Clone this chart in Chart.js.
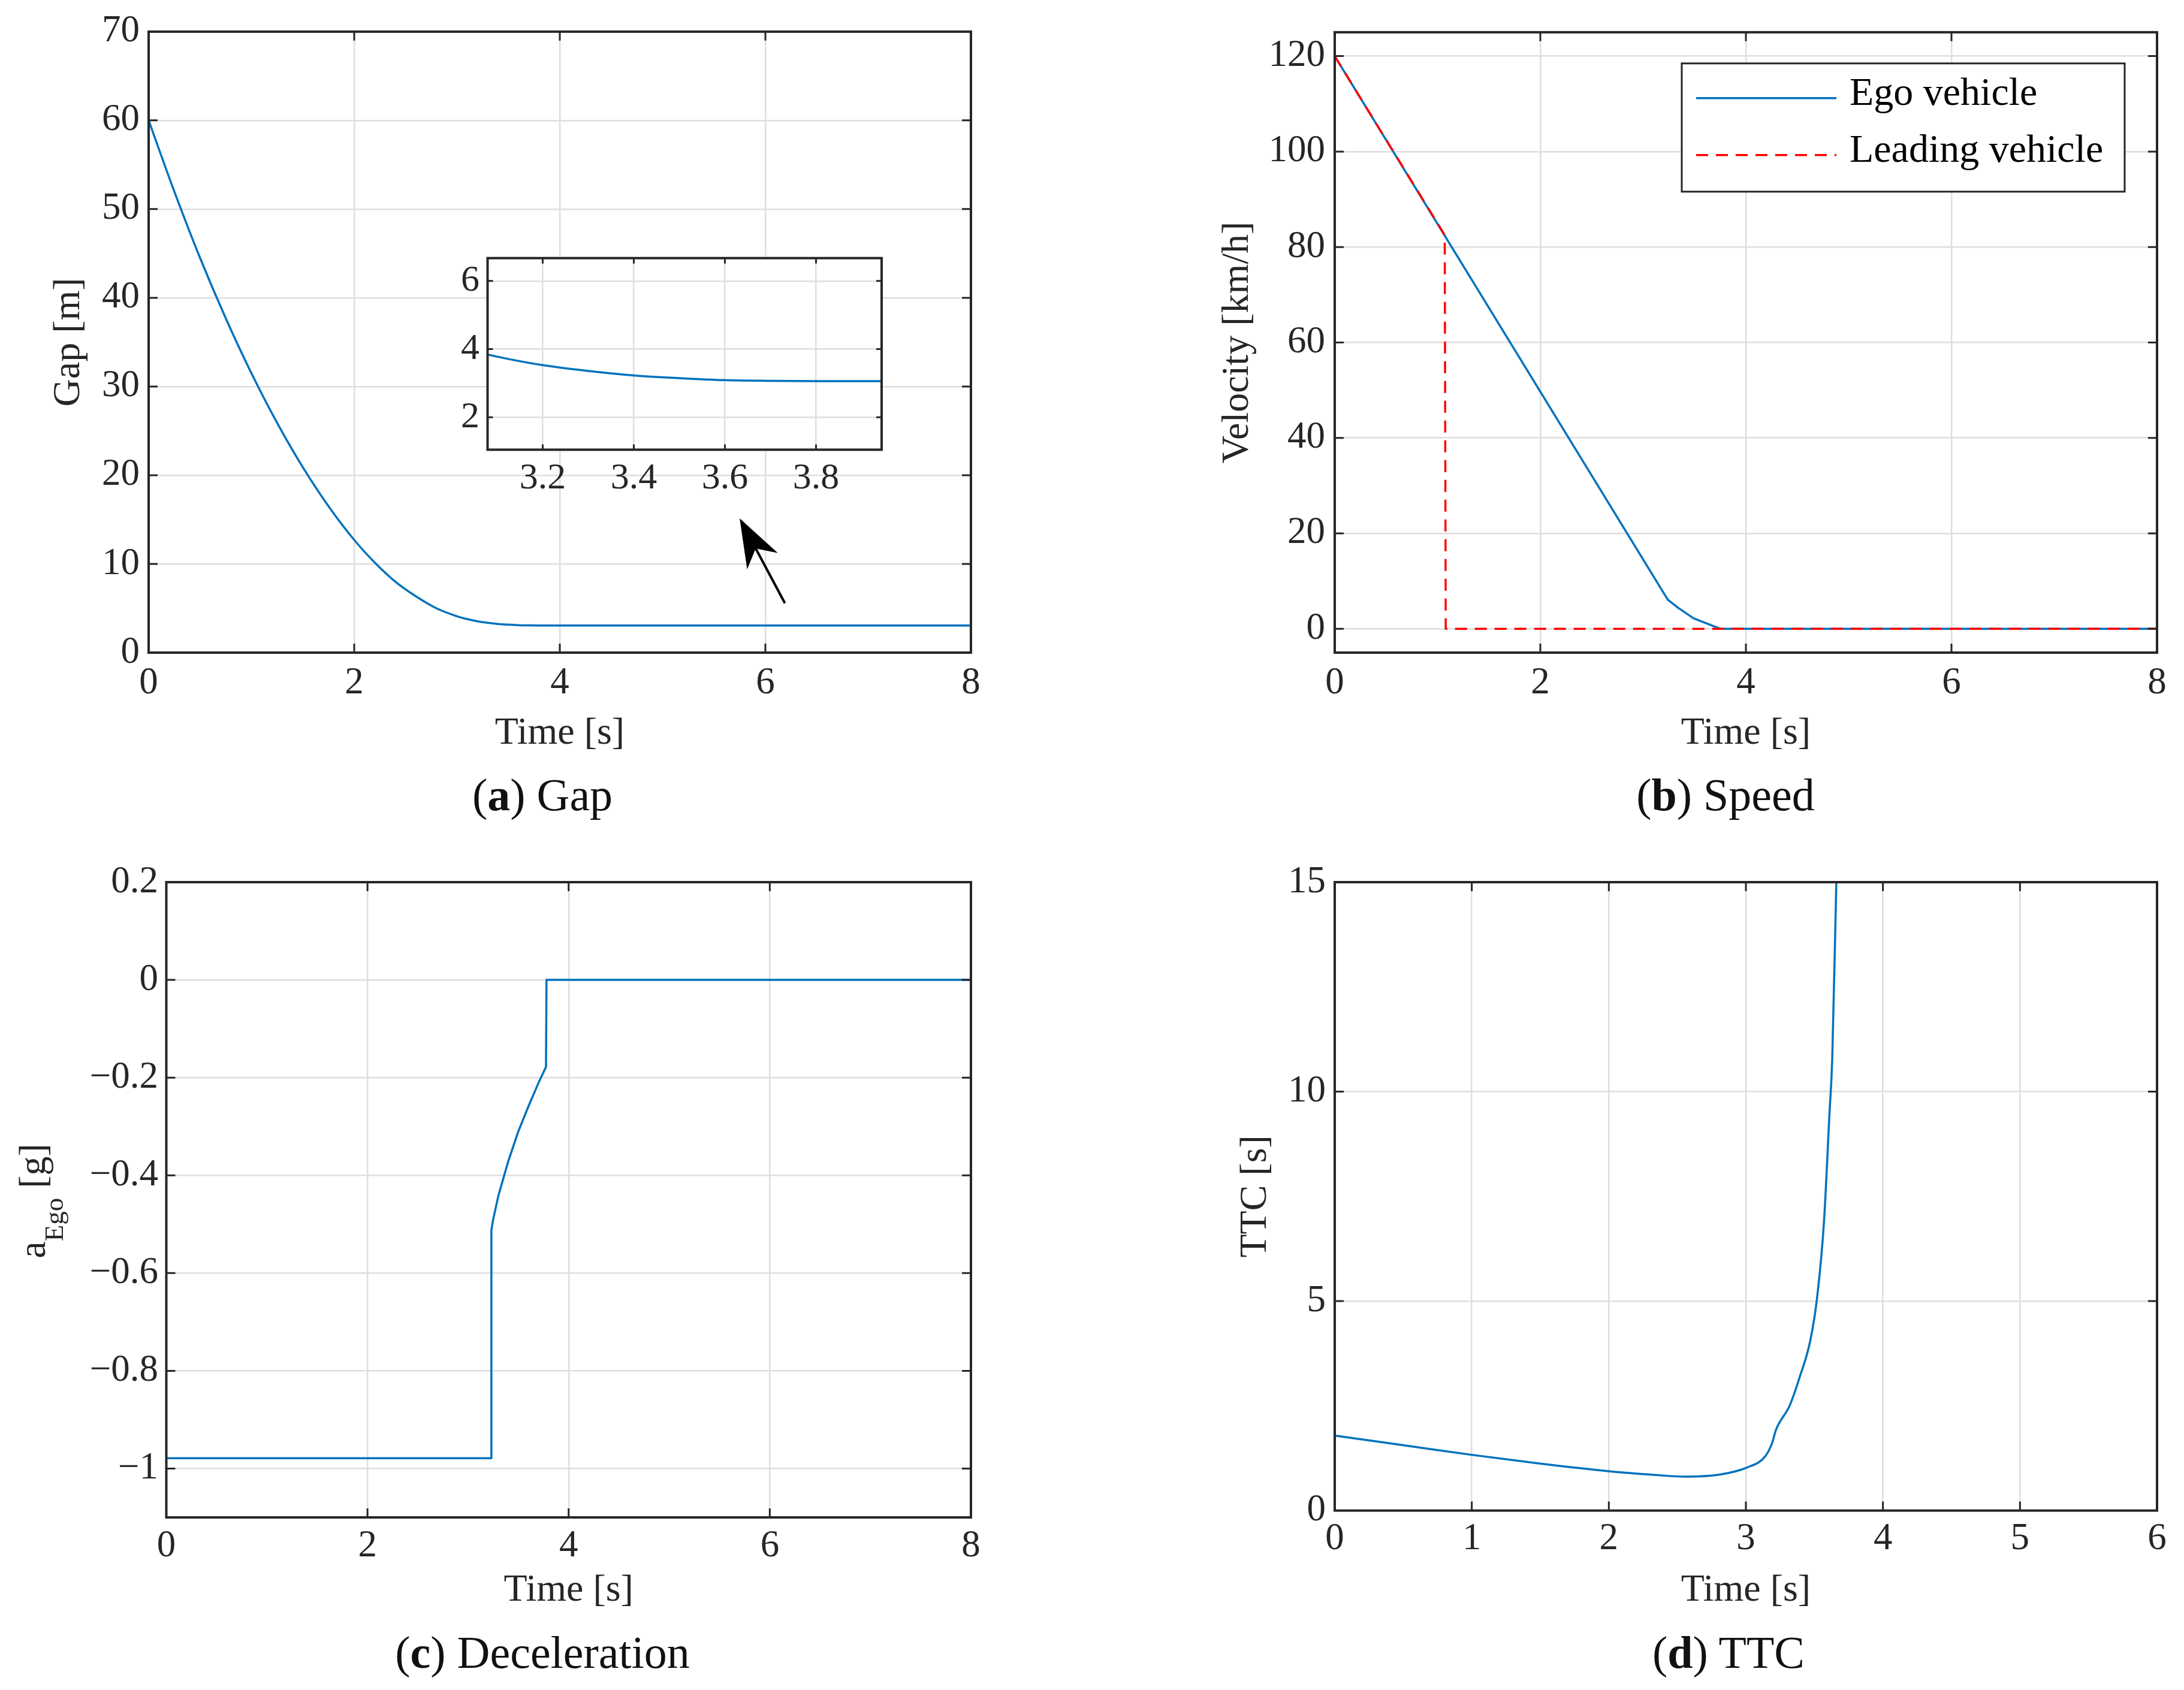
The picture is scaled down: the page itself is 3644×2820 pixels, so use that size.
<!DOCTYPE html>
<html>
<head>
<meta charset="utf-8">
<script src="https://cdn.jsdelivr.net/npm/chart.js@4.4.1/dist/chart.umd.min.js"></script>
<style>
html,body{margin:0;padding:0;background:#fff;}
#page{position:relative;width:3644px;height:2820px;background:#fff;overflow:hidden;font-family:'Liberation Serif','Times New Roman',serif;}
.pnl{position:absolute;}
.pnl canvas{display:block;}
.cap{position:absolute;transform:translate(-50%,-50%);font-size:76px;line-height:1;white-space:nowrap;color:#111;}
</style>
</head>
<body>
<div id="page">
  <div class="cap" style="left:905px;top:1326px">(<b>a</b>) Gap</div>
  <div class="cap" style="left:2879px;top:1326px">(<b>b</b>) Speed</div>
  <div class="cap" style="left:905px;top:2757px">(<b>c</b>) Deceleration</div>
  <div class="cap" style="left:2884px;top:2757px">(<b>d</b>) TTC</div>
</div>
<script>
// ---------------- data ----------------
const gapTime  = [0, 0.25, 0.5, 0.75, 1.0, 1.25, 1.5, 1.75, 2.0, 2.2, 2.4, 2.6, 2.8, 3.0, 3.1, 3.2, 3.3, 3.4, 3.5, 3.6, 3.7, 3.8, 4.0, 8.0];
const gapValue = [60, 51.97, 44.5, 37.7, 31.5, 25.9, 20.9, 16.5, 12.7, 10.15, 8.0, 6.35, 5.0, 4.1, 3.78, 3.53, 3.36, 3.23, 3.15, 3.09, 3.07, 3.06, 3.06, 3.06];
const gapXTicks = [0, 2, 4, 6, 8];
const gapYTicks = [0, 10, 20, 30, 40, 50, 60, 70];
const insetXTicks = [3.2, 3.4, 3.6, 3.8];
const insetYTicks = [2, 4, 6];
const arrowTail = [6.19, 5.57];
const arrowTip  = [5.75, 15.14];

const speedLabels = ['Ego vehicle', 'Leading vehicle'];
const egoTime   = [0, 3.24, 3.34, 3.49, 3.75, 8];
const egoSpeed  = [120, 6.1, 4.4, 2.2, 0, 0];
const leadTime  = [0, 1.07, 1.08, 8];
const leadSpeed = [120, 82.5, 0, 0];
const speedXTicks = [0, 2, 4, 6, 8];
const speedYTicks = [0, 20, 40, 60, 80, 100, 120];

const decelTime  = [0, 3.23, 3.232, 3.25, 3.30, 3.40, 3.50, 3.60, 3.70, 3.775, 3.78, 8];
const decelValue = [-0.979, -0.979, -0.512, -0.49, -0.443, -0.371, -0.310, -0.259, -0.211, -0.178, 0, 0];
const decelXTicks = [0, 2, 4, 6, 8];
const decelYTicks = [-1, -0.8, -0.6, -0.4, -0.2, 0, 0.2];
const decelYTickLabels = ['\u22121', '\u22120.8', '\u22120.6', '\u22120.4', '\u22120.2', '0', '0.2'];

const ttcTime  = [0, 0.5, 1.0, 1.5, 2.0, 2.3, 2.56, 2.81, 3.01, 3.14, 3.19, 3.22, 3.32, 3.39, 3.47, 3.52, 3.57, 3.61, 3.63, 3.66];
const ttcValue = [1.79, 1.56, 1.33, 1.12, 0.94, 0.86, 0.81, 0.86, 1.03, 1.29, 1.6, 1.93, 2.51, 3.16, 4.06, 5.09, 6.9, 9.48, 10.77, 15.0];
const ttcXTicks = [0, 1, 2, 3, 4, 5, 6];
const ttcYTicks = [0, 5, 10, 15];

// ---------------- style ----------------
const FONT = "'Liberation Serif', 'Times New Roman', serif";
const AX = '#262626';
const GRID = '#dedede';
const BLUE = '#0072BD';
const RED = '#FF0000';

const page = document.getElementById('page');
const pts = (xs, ys) => ys.map((y, i) => ({x: xs[i], y}));

function addCanvas(b) {
  const d = document.createElement('div');
  d.className = 'pnl';
  d.style.left = b.x + 'px'; d.style.top = b.y + 'px';
  d.style.width = b.w + 'px'; d.style.height = b.h + 'px';
  const c = document.createElement('canvas');
  d.appendChild(c); page.appendChild(d);
  return c;
}

function axis(o) {
  return {
    type: 'linear', min: o.min, max: o.max,
    afterBuildTicks: s => { s.ticks = o.ticks.map(v => ({value: v})); },
    afterFit: s => { if (s.isHorizontal()) s.height = o.size; else s.width = o.size; },
    ticks: {
      autoSkip: false, maxRotation: 0, minRotation: 0, padding: o.tickPad, color: AX,
      font: {family: FONT, size: o.tickSize || 63},
      callback: v => o.labels ? o.labels[o.ticks.indexOf(v)] : String(v)
    },
    grid: {color: GRID, lineWidth: 2.5, drawTicks: false},
    border: {display: false},
    title: o.title ? {display: true, text: o.title, color: AX, font: {family: FONT, size: 64}, padding: o.titlePad}
                   : {display: false}
  };
}

const frame = {
  id: 'frame',
  beforeDraw(chart, args, o) {
    if (!o.fill) return;
    const {ctx, chartArea: a} = chart;
    ctx.save(); ctx.fillStyle = '#fff';
    ctx.fillRect(a.left, a.top, a.right - a.left, a.bottom - a.top);
    ctx.restore();
  },
  afterDatasetsDraw(chart, args, o) {
    const {ctx, chartArea: a, scales: {x, y}} = chart;
    const len = o.len || 15;
    ctx.save();
    ctx.strokeStyle = AX; ctx.lineWidth = 3; ctx.setLineDash([]);
    ctx.beginPath();
    x.ticks.forEach(t => {
      const p = x.getPixelForValue(t.value);
      ctx.moveTo(p, a.bottom); ctx.lineTo(p, a.bottom - len);
      ctx.moveTo(p, a.top); ctx.lineTo(p, a.top + len);
    });
    y.ticks.forEach(t => {
      const p = y.getPixelForValue(t.value);
      ctx.moveTo(a.left, p); ctx.lineTo(a.left + len, p);
      ctx.moveTo(a.right, p); ctx.lineTo(a.right - len, p);
    });
    ctx.stroke();
    ctx.lineWidth = 4;
    ctx.strokeRect(a.left, a.top, a.right - a.left, a.bottom - a.top);
    ctx.restore();
  }
};

function makeChart(box, pad, datasets, xs, ys, extra, frameOpts) {
  const c = addCanvas(box);
  return new Chart(c, {
    type: 'line',
    data: {datasets},
    options: {
      responsive: true, maintainAspectRatio: false, animation: false, devicePixelRatio: 1,
      events: [],
      layout: {padding: pad},
      scales: {x: xs, y: ys},
      plugins: {legend: {display: false}, tooltip: {enabled: false}, frame: frameOpts || {}},
      elements: {point: {radius: 0}, line: {borderJoinStyle: 'round'}}
    },
    plugins: [frame].concat(extra || [])
  });
}

// ---------------- (a) Gap ----------------
const arrowPlugin = {
  id: 'arrow',
  afterDraw(chart) {
    const {ctx, scales: {x, y}} = chart;
    const x0 = x.getPixelForValue(arrowTail[0]), y0 = y.getPixelForValue(arrowTail[1]);
    const x1 = x.getPixelForValue(arrowTip[0]),  y1 = y.getPixelForValue(arrowTip[1]);
    const dx = x1 - x0, dy = y1 - y0, L = Math.hypot(dx, dy);
    const ux = dx / L, uy = dy / L, px = -uy, py = ux;
    const hl = 81, hw = 29, notch = 57;
    ctx.save();
    ctx.strokeStyle = '#000'; ctx.fillStyle = '#000'; ctx.lineWidth = 4;
    ctx.beginPath(); ctx.moveTo(x0, y0); ctx.lineTo(x1 - ux * notch, y1 - uy * notch); ctx.stroke();
    ctx.beginPath();
    ctx.moveTo(x1, y1);
    ctx.lineTo(x1 - ux * hl + px * hw, y1 - uy * hl + py * hw);
    ctx.lineTo(x1 - ux * notch, y1 - uy * notch);
    ctx.lineTo(x1 - ux * hl - px * hw, y1 - uy * hl - py * hw);
    ctx.closePath(); ctx.fill();
    ctx.restore();
  }
};

makeChart({x: 0, y: 0, w: 1700, h: 1280}, {left: 0, top: 44, right: 80, bottom: 0},
  [{label: 'Gap', data: pts(gapTime, gapValue), borderColor: BLUE, borderWidth: 3.5, cubicInterpolationMode: 'monotone', fill: false}],
  axis({min: 0, max: 8, ticks: gapXTicks, size: 191, tickPad: 13.7, title: 'Time [s]', titlePad: {top: 0, bottom: 17}}),
  axis({min: 0, max: 70, ticks: gapYTicks, size: 248, tickPad: 15, title: 'Gap [m]', titlePad: {top: 77, bottom: 0}}),
  [arrowPlugin]);

// inset
makeChart({x: 680, y: 380, w: 830, h: 480}, {left: 0, top: 33.7, right: 39, bottom: 0},
  [{label: 'Gap', data: pts(gapTime, gapValue), borderColor: BLUE, borderWidth: 3.5, cubicInterpolationMode: 'monotone', fill: false}],
  axis({min: 3.079, max: 3.944, ticks: insetXTicks, size: 109.6, tickPad: 11.4, tickSize: 62}),
  axis({min: 1.05, max: 6.67, ticks: insetYTicks, size: 133.5, tickPad: 13.5, tickSize: 62}),
  [], {fill: true, len: 9});

// ---------------- (b) Speed ----------------
const legendBox = {
  id: 'legendBox',
  afterDraw(chart) {
    const {ctx, chartArea: a} = chart;
    const w = 739, h = 214, right = a.right - 54, top = a.top + 52, left = right - w;
    ctx.save();
    ctx.fillStyle = '#fff'; ctx.fillRect(left, top, w, h);
    ctx.strokeStyle = AX; ctx.lineWidth = 3; ctx.strokeRect(left, top, w, h);
    chart.data.datasets.forEach((ds, i) => {
      const ly = top + 58 + i * 95;
      ctx.beginPath();
      ctx.strokeStyle = ds.borderColor; ctx.lineWidth = ds.borderWidth;
      ctx.setLineDash(ds.borderDash || []);
      ctx.moveTo(left + 24, ly); ctx.lineTo(left + 258, ly); ctx.stroke();
      ctx.setLineDash([]);
      ctx.fillStyle = '#000'; ctx.font = '66px ' + FONT;
      ctx.textBaseline = 'middle'; ctx.textAlign = 'left';
      ctx.fillText(ds.label, left + 280, ly - 6);
    });
    ctx.restore();
  }
};

makeChart({x: 1900, y: 0, w: 1744, h: 1280}, {left: 0, top: 44, right: 45, bottom: 0},
  [
    {label: speedLabels[0], data: pts(egoTime, egoSpeed), borderColor: BLUE, borderWidth: 3.5, fill: false, order: 1},
    {label: speedLabels[1], data: pts(leadTime, leadSpeed), borderColor: RED, borderWidth: 3.5, borderDash: [20, 13], fill: false, order: 0}
  ],
  axis({min: 0, max: 8, ticks: speedXTicks, size: 191, tickPad: 13.7, title: 'Time [s]', titlePad: {top: 0, bottom: 17}}),
  axis({min: -5, max: 125, ticks: speedYTicks, size: 327, tickPad: 16, title: 'Velocity [km/h]', titlePad: {top: 126.6, bottom: 0}}),
  [legendBox]);

// ---------------- (c) Deceleration ----------------
const aEgoLabel = {
  id: 'aEgoLabel',
  afterDraw(chart) {
    const ctx = chart.ctx;
    ctx.save();
    ctx.translate(75, 604);
    ctx.rotate(-Math.PI / 2);
    ctx.fillStyle = AX; ctx.textBaseline = 'alphabetic'; ctx.textAlign = 'left';
    const fMain = '64px ' + FONT, fSub = '45px ' + FONT;
    ctx.font = fMain; const wa = ctx.measureText('a').width; const wr = ctx.measureText(' [g]').width;
    ctx.font = fSub; const ws = ctx.measureText('Ego').width;
    let x = -(wa + ws + wr) / 2;
    ctx.font = fMain; ctx.fillText('a', x, 0); x += wa;
    ctx.font = fSub; ctx.fillText('Ego', x, 30); x += ws;
    ctx.font = fMain; ctx.fillText(' [g]', x, 0);
    ctx.restore();
  }
};

makeChart({x: 0, y: 1400, w: 1700, h: 1420}, {left: 0, top: 72, right: 80, bottom: 0},
  [{label: 'a_Ego', data: pts(decelTime, decelValue), borderColor: BLUE, borderWidth: 3.5, fill: false}],
  axis({min: 0, max: 8, ticks: decelXTicks, size: 288, tickPad: 10.2, title: 'Time [s]', titlePad: {top: 0, bottom: 127.6}}),
  axis({min: -1.1, max: 0.2, ticks: decelYTicks, labels: decelYTickLabels, size: 277.5, tickPad: 13.5}),
  [aEgoLabel]);

// ---------------- (d) TTC ----------------
makeChart({x: 1900, y: 1400, w: 1744, h: 1420}, {left: 0, top: 72, right: 45, bottom: 0},
  [{label: 'TTC', data: pts(ttcTime, ttcValue), borderColor: BLUE, borderWidth: 3.5, cubicInterpolationMode: 'monotone', fill: false}],
  axis({min: 0, max: 6, ticks: ttcXTicks, size: 299.4, tickPad: 9.6, title: 'Time [s]', titlePad: {top: 0, bottom: 127.6}}),
  axis({min: 0, max: 15, ticks: ttcYTicks, size: 327, tickPad: 15, title: 'TTC [s]', titlePad: {top: 156.6, bottom: 0}}),
  []);
</script>
</body>
</html>
